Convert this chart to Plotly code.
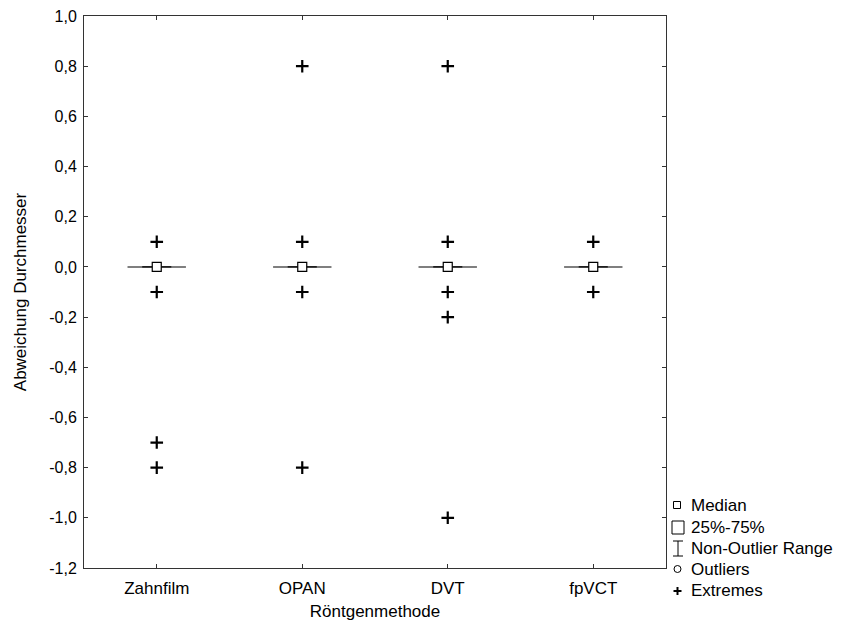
import plotly.graph_objects as go

categories = ["Zahnfilm", "OPAN", "DVT", "fpVCT"]
medians = [0.0, 0.0, 0.0, 0.0]
q1 = [0.0, 0.0, 0.0, 0.0]
q3 = [0.0, 0.0, 0.0, 0.0]
whisker_low = [0.0, 0.0, 0.0, 0.0]
whisker_high = [0.0, 0.0, 0.0, 0.0]
extremes = [
    [0.1, -0.1, -0.7, -0.8],
    [0.8, 0.1, -0.1, -0.8],
    [0.8, 0.1, -0.1, -0.2, -1.0],
    [0.1, -0.1],
]
y_ticks = [1.0, 0.8, 0.6, 0.4, 0.2, 0.0, -0.2, -0.4, -0.6, -0.8, -1.0, -1.2]
y_ticktext = [("%.1f" % v).replace(".", ",") for v in y_ticks]
y_ticktext = ["0,0" if t == "-0,0" else t for t in y_ticktext]

FONT = "Liberation Sans, Arial, sans-serif"
fig = go.Figure()

xs = list(range(len(categories)))
# whisker caps (gray)
cx, cy = [], []
for i in xs:
    for v in (whisker_low[i], whisker_high[i]):
        cx += [i - 0.2, i + 0.2, None]
        cy += [v, v, None]
fig.add_trace(go.Scatter(x=cx, y=cy, mode="lines", line=dict(color="#777777", width=1.5),
                         showlegend=False, hoverinfo="skip"))
# box (black)
bx, by = [], []
for i in xs:
    bx += [i - 0.1, i + 0.1, i + 0.1, i - 0.1, i - 0.1, None]
    by += [q1[i], q1[i], q3[i], q3[i], q1[i], None]
fig.add_trace(go.Scatter(x=bx, y=by, mode="lines", line=dict(color="black", width=1.2),
                         showlegend=False, hoverinfo="skip"))
# median square
fig.add_trace(go.Scatter(x=xs, y=medians, mode="markers",
                         marker=dict(symbol="square", size=9, color="white",
                                     line=dict(color="black", width=1.2)),
                         showlegend=False, hoverinfo="skip"))
# extremes
ex, ey = [], []
for i in xs:
    for v in extremes[i]:
        ex.append(i)
        ey.append(v)
fig.add_trace(go.Scatter(x=ex, y=ey, mode="markers",
                         marker=dict(symbol="cross-thin", size=9, color="black",
                                     line=dict(color="black", width=2.2)),
                         showlegend=False, hoverinfo="skip"))

# legend drawn manually
L, T, W, H = 84, 16, 582, 552
def px(x):
    return (x - L) / W
def py(y):
    return (T + H - y) / H

shapes = []
shapes.append(dict(type="rect", xref="paper", yref="paper", x0=px(673.5), x1=px(680.5),
                   y0=py(508.5), y1=py(501.5), line=dict(color="black", width=1)))
shapes.append(dict(type="rect", xref="paper", yref="paper", x0=px(672), x1=px(684),
                   y0=py(534), y1=py(521), line=dict(color="black", width=1)))
shapes.append(dict(type="line", xref="paper", yref="paper", x0=px(678), x1=px(678),
                   y0=py(541), y1=py(556), line=dict(color="black", width=1)))
shapes.append(dict(type="line", xref="paper", yref="paper", x0=px(673), x1=px(683),
                   y0=py(541), y1=py(541), line=dict(color="black", width=1)))
shapes.append(dict(type="line", xref="paper", yref="paper", x0=px(673), x1=px(683),
                   y0=py(556), y1=py(556), line=dict(color="black", width=1)))
shapes.append(dict(type="circle", xref="paper", yref="paper", x0=px(674), x1=px(681),
                   y0=py(572.5), y1=py(565.5), line=dict(color="black", width=1)))
shapes.append(dict(type="line", xref="paper", yref="paper", x0=px(673.5), x1=px(681.5),
                   y0=py(591), y1=py(591), line=dict(color="black", width=2)))
shapes.append(dict(type="line", xref="paper", yref="paper", x0=px(677.5), x1=px(677.5),
                   y0=py(587), y1=py(595), line=dict(color="black", width=2)))

legend_labels = ["Median", "25%-75%", "Non-Outlier Range", "Outliers", "Extremes"]
legend_y = [505, 527, 548, 569, 590]
annotations = []
for lab, yy in zip(legend_labels, legend_y):
    annotations.append(dict(text=lab, xref="paper", yref="paper", x=px(689), y=py(yy),
                            xanchor="left", yanchor="middle", showarrow=False,
                            font=dict(family=FONT, size=17, color="black")))

fig.update_layout(
    width=843, height=621,
    margin=dict(l=L, r=843 - L - W, t=T, b=621 - T - H),
    paper_bgcolor="white", plot_bgcolor="white",
    font=dict(family=FONT, size=17, color="black"),
    shapes=shapes, annotations=annotations,
    showlegend=False,
)
fig.update_xaxes(range=[-0.5, 3.5], tickvals=xs, ticktext=categories,
                 showgrid=False, zeroline=False, showline=True, mirror="ticks",
                 linecolor="#333333", linewidth=1, ticks="inside", ticklen=4,
                 tickcolor="#333333", automargin=False, ticklabelstandoff=5,
                 tickfont=dict(size=17),
                 title=dict(text="Röntgenmethode", font=dict(size=17), standoff=7))
fig.update_yaxes(range=[-1.2, 1.0], tickvals=y_ticks, ticktext=y_ticktext,
                 showgrid=False, zeroline=False, showline=True, mirror="ticks",
                 linecolor="#333333", linewidth=1, ticks="inside", ticklen=4,
                 tickcolor="#333333", automargin=False, ticklabelstandoff=3,
                 tickfont=dict(size=16),
                 title=dict(text="Abweichung Durchmesser", font=dict(size=17), standoff=18))
fig.write_html("out.html", config={"displayModeBar": False},
               post_script="document.body.style.margin='0px';")
